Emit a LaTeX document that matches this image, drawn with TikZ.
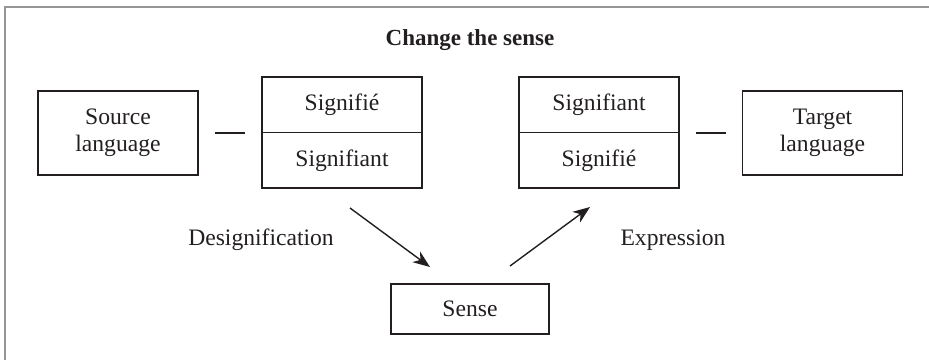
\documentclass[tikz,border=0pt]{standalone}
\usepackage{fontspec}
\setmainfont{Liberation Serif}
\usetikzlibrary{arrows.meta,calc}
\definecolor{ink}{HTML}{231F20}
\definecolor{framegray}{RGB}{150,150,150}
\begin{document}
\begin{tikzpicture}[x=0.5pt,y=-0.5pt,
  every node/.style={font=\fontsize{11.8}{13.5}\selectfont, text=ink},
  box/.style={draw=ink, line width=0.7pt, align=center, inner sep=0pt},
  langbox/.style={box, minimum width=80pt, minimum height=42pt},
  halfbox/.style={box, minimum width=80pt, minimum height=27.75pt},
  sensebox/.style={box, minimum width=79pt, minimum height=25pt},
  dashline/.style={draw=ink, line width=0.7pt, shorten <=8pt, shorten >=8pt},
  arrowline/.style={draw=ink, line width=0.7pt, -{Stealth[length=8.5pt,width=6.5pt,inset=2.5pt]}},
  titletext/.style={font=\fontsize{11.5}{13.5}\selectfont\bfseries}
]
\useasboundingbox (0,0) rectangle (929,359);
\clip (0,0) rectangle (929,359);
\draw[framegray, line width=1pt] (5,420) -- (5,7) -- (1000,7);

\node[titletext] (title) at (470,40) {Change the sense};

\node[langbox] (src) at (118,133) {Source\\language};
\node[halfbox] (lsa) at (342,104.75) {Signifié};
\node[halfbox] (lsb) at (342,160.25) {Signifiant};
\node[halfbox] (rsa) at (599,104.75) {Signifiant};
\node[halfbox] (rsb) at (599,160.25) {Signifié};
\node[langbox] (tgt) at (822.5,133) {Target\\language};
\node[sensebox] (sense) at (470,309) {Sense};

\draw[dashline] (src.east) -- (src.east -| lsa.west);
\draw[dashline] (rsa.east |- tgt.west) -- (tgt.west);

\coordinate (d1) at (350,208);
\coordinate (d2) at (430,267);
\coordinate (e1) at (510,266);
\coordinate (e2) at (590,207);
\draw[arrowline] (d1) -- (d2);
\draw[arrowline] (e1) -- (e2);

\node (desig) at (261,240) {Designification};
\node (expr) at (673,240) {Expression};
\end{tikzpicture}
\end{document}
